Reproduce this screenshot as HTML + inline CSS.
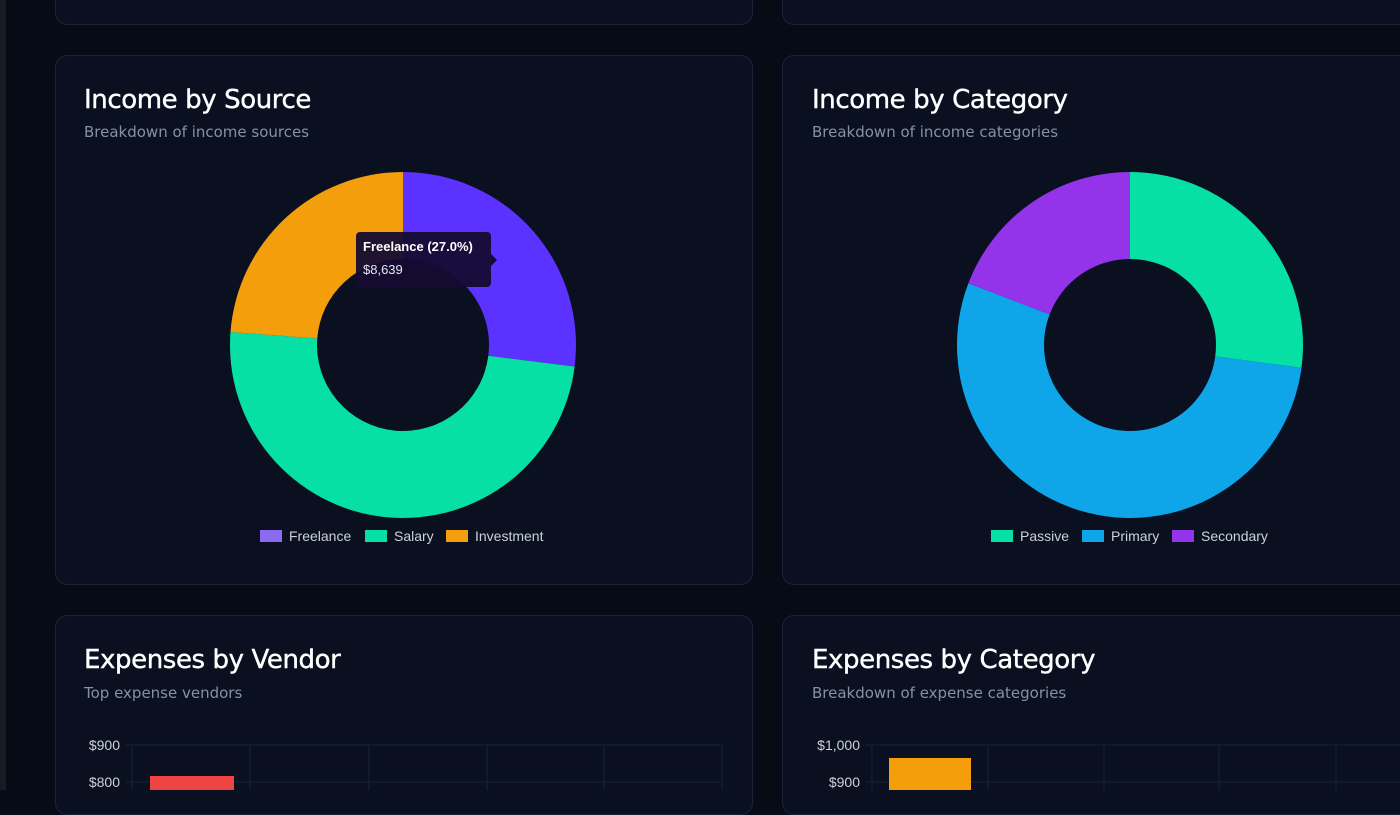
<!DOCTYPE html>
<html><head><meta charset="utf-8"><style>
body{margin:0;width:1400px;height:790px;background:#070b15;position:relative;overflow:hidden;font-family:"DejaVu Sans","Liberation Sans",sans-serif}
.side{position:absolute;left:0;top:0;width:6px;height:790px;background:#181b22}
.card{position:absolute;background:#0a1020;border:1px solid #18233a;border-radius:12px;box-sizing:border-box}
.t{position:absolute;color:#fff;font-size:26px;font-weight:500;letter-spacing:-0.4px;-webkit-text-stroke:0.4px #fff}
.s{position:absolute;color:#8591a5;font-size:15px}
svg{position:absolute;left:0;top:0}
.lg{font-family:"Liberation Sans",sans-serif;font-size:14px;fill:#cbd2dc}
.ax{font-family:"Liberation Sans",sans-serif;font-size:14px;fill:#cbd2dc}
</style></head><body>
<div class="side"></div>
<div class="card" style="left:55px;top:-20px;width:698px;height:45px"></div>
<div class="card" style="left:782px;top:-20px;width:640px;height:45px"></div>
<div class="card" style="left:55px;top:55px;width:698px;height:530px"></div>
<div class="card" style="left:782px;top:55px;width:640px;height:530px"></div>
<div class="card" style="left:55px;top:615px;width:698px;height:200px"></div>
<div class="card" style="left:782px;top:615px;width:640px;height:200px"></div>
<div class="t" style="left:84px;top:85px">Income by Source</div>
<div class="s" style="left:84px;top:123px">Breakdown of income sources</div>
<div class="t" style="left:812px;top:85px">Income by Category</div>
<div class="s" style="left:812px;top:123px">Breakdown of income categories</div>
<div class="t" style="left:84px;top:645px">Expenses by Vendor</div>
<div class="s" style="left:84px;top:684px">Top expense vendors</div>
<div class="t" style="left:812px;top:645px">Expenses by Category</div>
<div class="s" style="left:812px;top:684px">Breakdown of expense categories</div>
<svg id="g" width="1400" height="790">
<g stroke="#16233d" stroke-width="1">
<line x1="132" y1="745" x2="722" y2="745"/><line x1="132" y1="782" x2="722" y2="782"/>
<line x1="126" y1="745" x2="132" y2="745"/><line x1="126" y1="782" x2="132" y2="782"/>
<line x1="132" y1="745" x2="132" y2="790"/><line x1="250" y1="745" x2="250" y2="790"/><line x1="369" y1="745" x2="369" y2="790"/><line x1="487" y1="745" x2="487" y2="790"/><line x1="604" y1="745" x2="604" y2="790"/><line x1="722" y1="745" x2="722" y2="790"/>
<line x1="872" y1="745" x2="1400" y2="745"/><line x1="872" y1="782" x2="1400" y2="782"/>
<line x1="866" y1="745" x2="872" y2="745"/><line x1="866" y1="782" x2="872" y2="782"/>
<line x1="872" y1="745" x2="872" y2="790"/><line x1="988" y1="745" x2="988" y2="790"/><line x1="1104" y1="745" x2="1104" y2="790"/><line x1="1219" y1="745" x2="1219" y2="790"/><line x1="1336" y1="745" x2="1336" y2="790"/>
</g>
<text class="ax" x="120" y="750" text-anchor="end">$900</text>
<text class="ax" x="120" y="787" text-anchor="end">$800</text>
<text class="ax" x="860" y="750" text-anchor="end">$1,000</text>
<text class="ax" x="860" y="787" text-anchor="end">$900</text>
<rect x="150" y="776" width="84" height="20" fill="#ef4444"/>
<rect x="889" y="758" width="82" height="40" fill="#f59e0b"/>
<rect x="260" y="530" width="22" height="12" fill="#8b6cf0"/><text class="lg" x="289" y="541">Freelance</text>
<rect x="365" y="530" width="22" height="12" fill="#07e0a4"/><text class="lg" x="394" y="541">Salary</text>
<rect x="446" y="530" width="22" height="12" fill="#f59e0b"/><text class="lg" x="475" y="541">Investment</text>
<rect x="991" y="530" width="22" height="12" fill="#07e0a4"/><text class="lg" x="1020" y="541">Passive</text>
<rect x="1082" y="530" width="22" height="12" fill="#0ea5e9"/><text class="lg" x="1111" y="541">Primary</text>
<rect x="1172" y="530" width="22" height="12" fill="#9333ea"/><text class="lg" x="1201" y="541">Secondary</text>
<g id="d"></g>
<g>
<rect x="356" y="232" width="135" height="55" rx="4" fill="#150c32" fill-opacity="0.95"/>
<path d="M491 254 L497 260 L491 266Z" fill="#150c32"/>
<text x="363" y="251" font-family="Liberation Sans,sans-serif" font-size="13" font-weight="bold" fill="#fff">Freelance (27.0%)</text>
<text x="363" y="274" font-family="Liberation Sans,sans-serif" font-size="13" fill="#e5e7eb">$8,639</text>
</g>
</svg>
<script>
function arc(cx,cy,R,r,a0,a1,c){var f=Math.PI/180;function p(rad,a){return [cx+rad*Math.sin(a*f),cy-rad*Math.cos(a*f)];}
var l=(a1-a0)>180?1:0;var A=p(R,a0),B=p(R,a1),C=p(r,a1),D=p(r,a0);
return '<path fill="'+c+'" d="M'+A+' A'+R+' '+R+' 0 '+l+' 1 '+B+' L'+C+' A'+r+' '+r+' 0 '+l+' 0 '+D+'Z"/>';}
var s='';
s+=arc(403,345,173,86,0,97.2,'#5b32ff');
s+=arc(403,345,173,86,97.2,274.3,'#07e0a4');
s+=arc(403,345,173,86,274.3,360,'#f59e0b');
s+=arc(1130,345,173,86,0,97.6,'#07e0a4');
s+=arc(1130,345,173,86,97.6,290.9,'#0ea5e9');
s+=arc(1130,345,173,86,290.9,360,'#9333ea');
document.getElementById('d').innerHTML=s;
</script>
</body></html>
